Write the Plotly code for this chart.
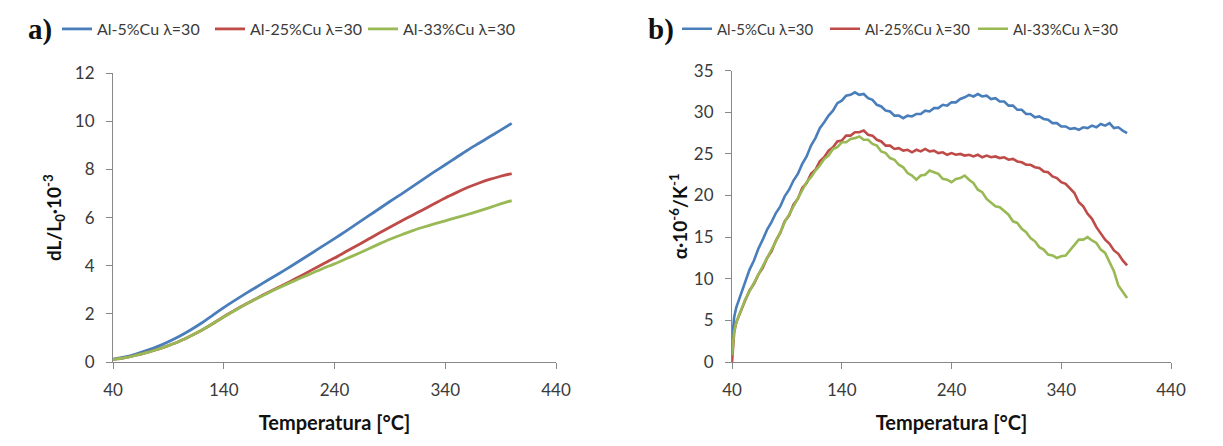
import plotly.graph_objects as go

# ---------------- panel a: relative elongation ----------------
temp_a = [40, 50, 60, 70, 80, 90, 100, 110, 120, 130, 140, 150, 160, 170, 180, 190,
          200, 210, 220, 230, 240, 250, 260, 270, 280, 290, 300, 310, 320, 330, 340,
          350, 360, 370, 380, 390, 400]
dl_cu5 = [0.12, 0.20, 0.32, 0.47, 0.64, 0.84, 1.07, 1.33, 1.62, 1.94, 2.26, 2.56, 2.85,
          3.13, 3.41, 3.68, 3.96, 4.25, 4.54, 4.84, 5.13, 5.43, 5.74, 6.05, 6.36, 6.67,
          6.97, 7.28, 7.59, 7.90, 8.20, 8.50, 8.80, 9.08, 9.36, 9.64, 9.92]
dl_cu25 = [0.10, 0.17, 0.27, 0.39, 0.52, 0.68, 0.86, 1.08, 1.32, 1.59, 1.88, 2.15, 2.41,
           2.65, 2.89, 3.12, 3.35, 3.59, 3.84, 4.08, 4.32, 4.58, 4.83, 5.09, 5.35, 5.60,
           5.85, 6.09, 6.33, 6.58, 6.82, 7.04, 7.25, 7.43, 7.59, 7.72, 7.83]
dl_cu33 = [0.10, 0.17, 0.27, 0.39, 0.52, 0.68, 0.86, 1.08, 1.32, 1.59, 1.87, 2.14, 2.40,
           2.64, 2.87, 3.09, 3.30, 3.50, 3.70, 3.90, 4.08, 4.28, 4.48, 4.69, 4.90, 5.10,
           5.28, 5.45, 5.60, 5.74, 5.87, 6.00, 6.13, 6.27, 6.42, 6.57, 6.71]

# ---------------- panel b: thermal expansion coefficient ----------------
temp_b = [40, 41, 42, 44, 48, 52, 56, 60, 64, 68, 72, 76, 80, 84, 88, 92, 96, 100,
          104, 108, 112, 116, 120, 124, 128, 132, 136, 140, 144, 148, 152, 156, 160,
          164, 168, 172, 176, 180, 184, 188, 192, 196, 200, 204, 208, 212, 216, 220,
          224, 228, 232, 236, 240, 244, 248, 252, 256, 260, 264, 268, 272, 276, 280,
          284, 288, 292, 296, 300, 304, 308, 312, 316, 320, 324, 328, 332, 336, 340,
          344, 348, 352, 356, 360, 364, 368, 372, 376, 380, 384, 388, 392, 396, 400]
alpha_cu5 = [2.6, 4.4, 5.4, 6.6, 8.1, 9.5, 11.1, 12.2, 13.6, 14.7, 15.9, 16.8, 17.9,
             18.7, 19.9, 20.7, 21.8, 22.6, 23.8, 24.7, 26.0, 26.9, 28.1, 28.8, 29.6,
             30.2, 31.1, 31.4, 32.0, 32.1, 32.4, 32.1, 32.2, 31.7, 31.5, 30.9, 30.7,
             30.2, 30.1, 29.6, 29.6, 29.3, 29.6, 29.5, 29.8, 29.8, 30.2, 30.1, 30.5,
             30.5, 30.9, 30.8, 31.2, 31.2, 31.6, 31.8, 32.1, 31.9, 32.2, 31.9, 32.0,
             31.6, 31.7, 31.3, 31.3, 30.8, 30.8, 30.3, 30.3, 29.8, 29.8, 29.4, 29.5,
             29.2, 29.1, 28.7, 28.7, 28.3, 28.3, 28.0, 28.1, 27.9, 28.2, 28.1, 28.4,
             28.2, 28.6, 28.4, 28.7, 28.1, 28.2, 27.8, 27.5]
alpha_cu25 = [0.0, 2.3, 3.6, 4.8, 6.2, 7.4, 8.6, 9.4, 10.5, 11.3, 12.5, 13.3, 14.6,
              15.5, 16.9, 17.6, 18.9, 19.6, 20.9, 21.5, 22.6, 23.1, 24.1, 24.6, 25.4,
              25.8, 26.5, 26.6, 27.2, 27.2, 27.6, 27.6, 27.8, 27.3, 27.2, 26.7, 26.5,
              26.0, 26.0, 25.6, 25.7, 25.4, 25.5, 25.2, 25.5, 25.3, 25.6, 25.3, 25.4,
              25.1, 25.2, 24.9, 25.1, 24.9, 25.0, 24.8, 24.9, 24.7, 24.9, 24.6, 24.8,
              24.6, 24.7, 24.5, 24.6, 24.3, 24.4, 24.1, 24.0, 23.7, 23.7, 23.4, 23.3,
              22.9, 22.8, 22.3, 22.1, 21.6, 21.4, 20.9, 20.3, 19.2, 18.7, 17.8, 17.2,
              16.2, 15.5, 14.7, 14.2, 13.4, 13.0, 12.2, 11.6]
alpha_cu33 = [0.8, 2.6, 3.7, 4.8, 6.1, 7.5, 8.5, 9.5, 10.4, 11.4, 12.4, 13.4, 14.5,
              15.6, 16.8, 17.7, 18.7, 19.7, 20.6, 21.6, 22.2, 23.0, 23.6, 24.4, 24.8,
              25.6, 25.8, 26.4, 26.4, 26.8, 26.9, 27.1, 26.7, 26.7, 26.2, 26.0, 25.3,
              25.1, 24.5, 24.3, 23.7, 23.4, 22.7, 22.4, 21.9, 22.4, 22.5, 23.0, 22.8,
              22.6, 22.0, 21.9, 21.6, 22.0, 22.1, 22.4, 21.9, 21.5, 20.7, 20.4, 19.6,
              19.2, 18.7, 18.6, 18.1, 17.7, 16.9, 16.7, 16.0, 15.6, 14.9, 14.5, 13.8,
              13.5, 12.9, 12.8, 12.5, 12.7, 12.8, 13.4, 14.0, 14.7, 14.7, 15.0, 14.6,
              14.3, 13.5, 13.1, 12.0, 10.9, 9.2, 8.4, 7.7]

series_names = ["Al-5%Cu λ=30", "Al-25%Cu λ=30", "Al-33%Cu λ=30"]
colors = ["#4A7EBB", "#BE4B48", "#98B954"]
x_ticks = [40, 140, 240, 340, 440]

W, H = 1223, 446
FONT = "Lato"
AXIS_GRAY = "#888888"
TEXT = "#3a3a3a"

fig = go.Figure()

for name, ys, c in zip(series_names, [dl_cu5, dl_cu25, dl_cu33], colors):
    fig.add_trace(go.Scatter(x=temp_a, y=ys, mode="lines", name=name,
                             line=dict(color=c, width=2.8, shape="spline", smoothing=0.6),
                             xaxis="x", yaxis="y", legend="legend"))

for name, ys, c in zip(series_names, [alpha_cu5, alpha_cu25, alpha_cu33], colors):
    fig.add_trace(go.Scatter(x=temp_b, y=ys, mode="lines", name=name,
                             line=dict(color=c, width=2.6),
                             xaxis="x2", yaxis="y2", legend="legend2"))


def xaxis_style(domain, anchor):
    return dict(domain=domain, anchor=anchor, range=[40, 440], tickvals=x_ticks,
                showgrid=False, zeroline=False, showline=True, linecolor=AXIS_GRAY,
                linewidth=1, ticks="outside", ticklen=6, tickcolor=AXIS_GRAY,
                ticklabelstandoff=7,
                tickfont=dict(family=FONT, size=17, color=TEXT), automargin=False,
                title=dict(text="<b>Temperatura [°C]</b>", standoff=16,
                           font=dict(family=FONT, size=20, color="#111111")))


def yaxis_style(domain, anchor, rng, dtick, title, standoff):
    return dict(domain=domain, anchor=anchor, range=rng, dtick=dtick, tick0=0,
                showgrid=False, zeroline=False, showline=True, linecolor=AXIS_GRAY,
                linewidth=1, ticks="outside", ticklen=6, tickcolor=AXIS_GRAY,
                ticklabelstandoff=8,
                tickfont=dict(family=FONT, size=17, color=TEXT), automargin=False,
                title=dict(text=title, standoff=standoff,
                           font=dict(family=FONT, size=19, color="#111111")))


xa = [113 / W, 556 / W]
xb = [732 / W, 1171 / W]
ya = [(H - 362) / H, (H - 73.3) / H]
yb = [(H - 362) / H, (H - 70.7) / H]

fig.update_layout(
    width=W, height=H,
    margin=dict(l=0, r=0, t=0, b=0),
    paper_bgcolor="white", plot_bgcolor="white",
    xaxis=xaxis_style(xa, "y"),
    yaxis=yaxis_style(ya, "x", [0, 12], 2,
                      "<b>dL/L<sub>0</sub>·10<sup>-3</sup></b>", 8),
    xaxis2=xaxis_style(xb, "y2"),
    yaxis2=yaxis_style(yb, "x2", [0, 35], 5,
                       "<b>α·10<sup>-6</sup>/K<sup>-1</sup></b>", 1),
    legend=dict(orientation="h", x=57 / W, xanchor="left", y=1 - 29 / H,
                yanchor="middle", bgcolor="rgba(0,0,0,0)",
                font=dict(family=FONT, size=16, color=TEXT),
                entrywidth=108, itemwidth=30, tracegroupgap=0),
    legend2=dict(orientation="h", x=677 / W, xanchor="left", y=1 - 29 / H,
                 yanchor="middle", bgcolor="rgba(0,0,0,0)",
                 font=dict(family=FONT, size=15, color=TEXT),
                 entrywidth=103, itemwidth=30, tracegroupgap=0),
    annotations=[
        dict(text="<b>a)</b>", x=26 / W, y=1 - 30 / H, xref="paper", yref="paper",
             xanchor="left", yanchor="middle", showarrow=False,
             font=dict(family="Liberation Serif", size=29, color="#111111")),
        dict(text="<b>b)</b>", x=646 / W, y=1 - 30 / H, xref="paper", yref="paper",
             xanchor="left", yanchor="middle", showarrow=False,
             font=dict(family="Liberation Serif", size=29, color="#111111")),
    ],
)

fig.write_html("out.html")
